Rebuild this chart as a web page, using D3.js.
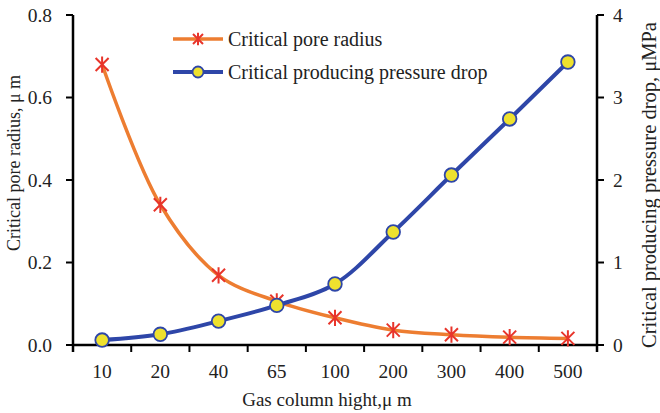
<!DOCTYPE html>
<html>
<head>
<meta charset="utf-8">
<script src="https://cdn.jsdelivr.net/npm/d3@7"></script>
<style>
  html, body { margin: 0; padding: 0; background: #fff; }
  svg text { font-family: "Liberation Serif", "Times New Roman", serif; fill: #222; }
</style>
</head>
<body>
<svg id="chart" width="660" height="413"></svg>
<script>
// Gas column heights (categorical axis)
const heights = ["10", "20", "40", "65", "100", "200", "300", "400", "500"];
// Critical pore radius, μm (left axis)
const poreRadius = [0.68, 0.34, 0.169, 0.106, 0.066, 0.036, 0.025, 0.019, 0.016];
// Critical producing pressure drop, μMPa (right axis)
const pressureDrop = [0.06, 0.13, 0.29, 0.48, 0.74, 1.37, 2.06, 2.74, 3.43];
const leftTicks = [0, 0.2, 0.4, 0.6, 0.8];
const rightTicks = [0, 1, 2, 3, 4];

const svg = d3.select("#chart");
const margin = { left: 73, right: 63, top: 15, bottom: 68 };
const W = 660, H = 413;
const x0 = margin.left, x1 = W - margin.right, y0 = H - margin.bottom, y1 = margin.top;

const x = d3.scaleBand().domain(heights).range([x0, x1]).padding(0);
const yL = d3.scaleLinear().domain([0, 0.8]).range([y0, y1]);
const yR = d3.scaleLinear().domain([0, 4]).range([y0, y1]);
const cx = d => x(d) + x.bandwidth() / 2;

const tickFont = 19.5;
const orange = "#ED7D31", red = "#E8352B", blue = "#2E46A8", yellow = "#EEE12E";

// Bottom axis: tick marks at band boundaries
const bottom = svg.append("g").attr("transform", `translate(0,${y0})`);
bottom.append("line").attr("x1", x0).attr("x2", x1).attr("stroke", "#000").attr("stroke-width", 2.5);
const bounds = heights.map(h => x(h)).concat([x1]);
bottom.selectAll("line.tk").data(bounds).enter().append("line")
  .attr("class", "tk").attr("x1", d => d).attr("x2", d => d).attr("y1", 0).attr("y2", 7)
  .attr("stroke", "#000").attr("stroke-width", 2);
bottom.selectAll("text.lb").data(heights).enter().append("text")
  .attr("class", "lb").attr("x", d => cx(d)).attr("y", 33)
  .attr("text-anchor", "middle").attr("font-size", tickFont).text(d => d);

// Left axis
const left = svg.append("g").attr("transform", `translate(${x0},0)`);
left.append("line").attr("y1", y1).attr("y2", y0 + 7).attr("stroke", "#000").attr("stroke-width", 2.5);
left.selectAll("line.tk").data(leftTicks).enter().append("line")
  .attr("class", "tk").attr("x1", -7).attr("x2", 0).attr("y1", d => yL(d)).attr("y2", d => yL(d))
  .attr("stroke", "#000").attr("stroke-width", 2);
left.selectAll("text.lb").data(leftTicks).enter().append("text")
  .attr("class", "lb").attr("x", -21).attr("y", d => yL(d)).attr("dy", "0.34em")
  .attr("text-anchor", "end").attr("font-size", tickFont).text(d => d.toFixed(1));

// Right axis
const right = svg.append("g").attr("transform", `translate(${x1},0)`);
right.append("line").attr("y1", y1).attr("y2", y0 + 7).attr("stroke", "#000").attr("stroke-width", 2.5);
right.selectAll("line.tk").data(rightTicks).enter().append("line")
  .attr("class", "tk").attr("x1", 0).attr("x2", 7).attr("y1", d => yR(d)).attr("y2", d => yR(d))
  .attr("stroke", "#000").attr("stroke-width", 2);
right.selectAll("text.lb").data(rightTicks).enter().append("text")
  .attr("class", "lb").attr("x", 16).attr("y", d => yR(d)).attr("dy", "0.34em")
  .attr("text-anchor", "start").attr("font-size", tickFont).text(d => d);

// Axis titles
svg.append("text").attr("transform", `translate(20,163) rotate(-90)`)
  .attr("text-anchor", "middle").attr("font-size", 18).text("Critical pore radius, μ m");
svg.append("text").attr("transform", `translate(656,185) rotate(-90)`)
  .attr("text-anchor", "middle").attr("font-size", 20.5).text("Critical producing pressure drop, μMPa");
svg.append("text").attr("x", 327).attr("y", 406)
  .attr("text-anchor", "middle").attr("font-size", 19).text("Gas column hight,μ m");

// Series lines
const lineL = d3.line().x((d, i) => cx(heights[i])).y(d => yL(d)).curve(d3.curveCatmullRom.alpha(0.5));
const lineR = d3.line().x((d, i) => cx(heights[i])).y(d => yR(d)).curve(d3.curveCatmullRom.alpha(0.5));

svg.append("path").attr("d", lineL(poreRadius)).attr("fill", "none")
  .attr("stroke", orange).attr("stroke-width", 3.5);

function star(g, px, py, s) {
  const a = s;
  g.append("path")
    .attr("d", `M${px - a},${py - a}L${px + a},${py + a}M${px - a},${py + a}L${px + a},${py - a}M${px},${py - a * 1.25}L${px},${py + a * 1.25}`)
    .attr("stroke", red).attr("stroke-width", 2).attr("fill", "none");
}
const stars = svg.append("g");
poreRadius.forEach((v, i) => star(stars, cx(heights[i]), yL(v), 6.5));

svg.append("path").attr("d", lineR(pressureDrop)).attr("fill", "none")
  .attr("stroke", blue).attr("stroke-width", 4);
svg.append("g").selectAll("circle").data(pressureDrop).enter().append("circle")
  .attr("cx", (d, i) => cx(heights[i])).attr("cy", d => yR(d)).attr("r", 6.8)
  .attr("fill", yellow).attr("stroke", blue).attr("stroke-width", 1.8);

// Legend
const lg = svg.append("g");
lg.append("line").attr("x1", 173).attr("x2", 223).attr("y1", 39).attr("y2", 39)
  .attr("stroke", orange).attr("stroke-width", 3.5);
star(lg, 198, 39, 5);
lg.append("text").attr("x", 228).attr("y", 46).attr("font-size", 20).text("Critical pore radius");
lg.append("line").attr("x1", 173).attr("x2", 223).attr("y1", 72).attr("y2", 72)
  .attr("stroke", blue).attr("stroke-width", 4);
lg.append("circle").attr("cx", 198).attr("cy", 72).attr("r", 5.5)
  .attr("fill", yellow).attr("stroke", blue).attr("stroke-width", 1.8);
lg.append("text").attr("x", 228).attr("y", 79).attr("font-size", 20).text("Critical producing pressure drop");
</script>
</body>
</html>
